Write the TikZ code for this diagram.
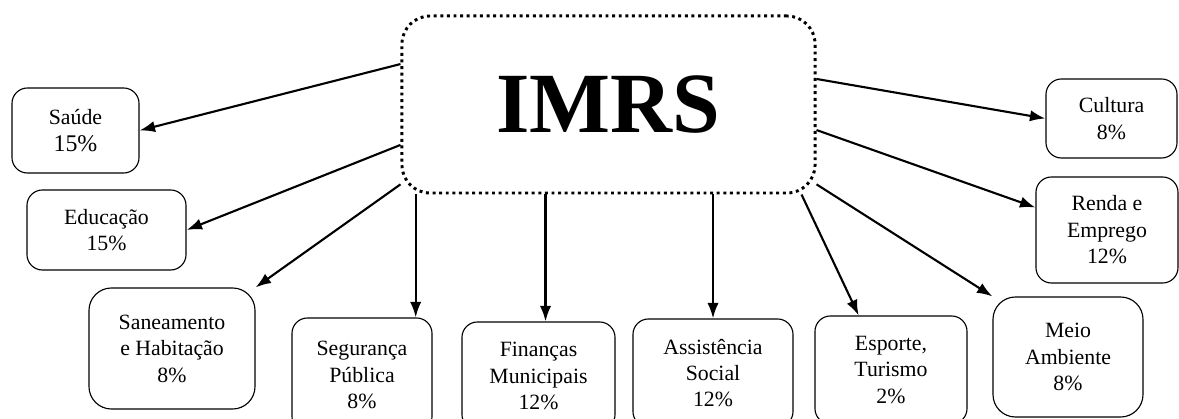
\documentclass[tikz,border=0pt]{standalone}
\usepackage{fontspec}
\setmainfont{Liberation Serif}
\usepackage{tikz}
\usetikzlibrary{arrows.meta}
\tikzset{>={Latex[length=11pt, width=8pt]}}
\tikzset{
    caixa/.style={draw, line width=0.8pt, rounded corners=11pt, align=center, inner sep=0pt,
        font=\fontsize{15.5}{18.8}\selectfont},
    centro/.style={draw, line width=2.1pt, dash pattern=on 2.1pt off 2.6pt, rounded corners=20pt,
        inner sep=0pt, font=\fontsize{61}{70}\selectfont\bfseries},
    seta/.style={->, line width=1.5pt}
}

\begin{document}
\begin{tikzpicture}[x=0.025cm, y=-0.025cm]
    \useasboundingbox (0, 0) rectangle (1179, 419);

    \node[centro, minimum width=10.325cm, minimum height=4.425cm] (imrs) at (608.5, 104.5) {IMRS};

    \node[caixa, minimum width=3.175cm, minimum height=2.125cm] (saude) at (75.5, 130.5) {Saúde\\{\fontsize{17}{19}\selectfont 15\%}};
    \node[caixa, minimum width=3.975cm, minimum height=2.0cm] (educ) at (106.5, 230) {Educação\\15\%};
    \node[caixa, minimum width=4.15cm, minimum height=3.025cm, rounded corners=16pt] (sanea) at (172, 348.5) {Saneamento\\e Habitação\\8\%};
    \node[caixa, minimum width=3.5cm, minimum height=2.85cm] (seg) at (362, 375) {Segurança\\Pública\\8\%};
    \node[caixa, minimum width=3.825cm, minimum height=2.7cm] (fin) at (538.5, 376) {Finanças\\Municipais\\12\%};
    \node[caixa, minimum width=4.0cm, minimum height=2.7cm] (ass) at (713, 373) {Assistência\\Social\\12\%};
    \node[caixa, minimum width=3.8cm, minimum height=2.7cm] (esp) at (891, 370) {Esporte,\\Turismo\\2\%};
    \node[caixa, minimum width=3.75cm, minimum height=3.0cm, rounded corners=16pt] (meio) at (1068, 357) {Meio\\Ambiente\\8\%};
    \node[caixa, minimum width=3.55cm, minimum height=2.65cm] (renda) at (1107, 230) {Renda e\\Emprego\\12\%};
    \node[caixa, minimum width=3.275cm, minimum height=1.975cm] (cultura) at (1111.5, 118.5) {Cultura\\8\%};

    % setas do centro para cada dimensao
    \draw[seta] (imrs.169.2) -- (saude.east);
    \draw[seta] (imrs.191.1) -- (educ.east);
    \draw[seta] (imrs.201.4) -- (sanea.north east);
    \draw[seta] ([xshift=-12pt]seg.north east |- imrs.south) -- ([xshift=-12pt]seg.north east);
    \draw[seta] ([xshift=5pt]fin.north |- imrs.south) -- ([xshift=5pt]fin.north);
    \draw[seta] (ass.north |- imrs.south) -- (ass.north);
    \draw[seta] (imrs.335.2) -- ([xshift=-23pt]esp.north);
    \draw[seta] (imrs.339.7) -- (meio.north west);
    \draw[seta] (imrs.353.0) -- ([yshift=16pt]renda.west);
    \draw[seta] (imrs.7.0) -- (cultura.west);

\end{tikzpicture}
\end{document}
